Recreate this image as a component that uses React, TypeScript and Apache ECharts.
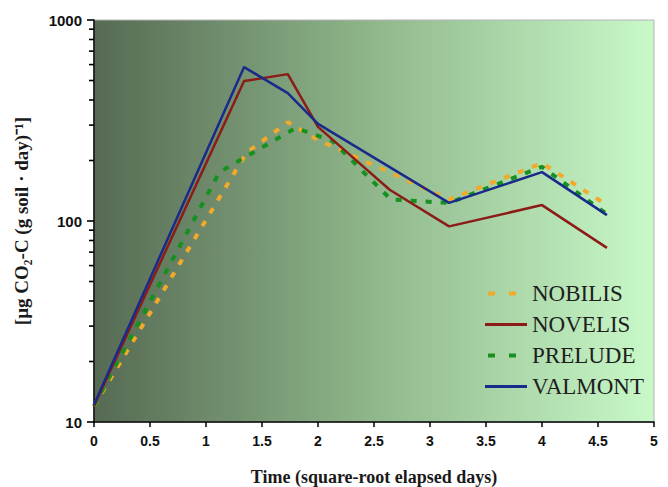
import React, { useEffect, useRef } from "react";
import * as echarts from "echarts";

const seriesNames = ["NOBILIS", "NOVELIS", "PRELUDE", "VALMONT"];
const seriesColors = ["#f3a929", "#8c1c17", "#16901e", "#1a2a8a"];

const nobilisX = [0, 1.36, 1.73, 2.0, 3.17, 4.0, 4.58];
const nobilisY = [12, 218, 310, 253, 128, 194, 120];

const novelisX = [0, 1.34, 1.73, 2.0, 2.64, 3.17, 4.0, 4.58];
const novelisY = [12, 497, 538, 294, 143, 94, 120, 73.5];

const preludeX = [0, 1.12, 1.8, 2.13, 2.65, 3.17, 4.0, 4.58];
const preludeY = [12, 175, 290, 250, 128, 123, 186, 108];

const valmontX = [0, 1.34, 1.73, 2.0, 3.17, 4.0, 4.58];
const valmontY = [12.2, 583, 433, 304, 123, 175, 107];

const minorTickValues = [20, 30, 40, 50, 60, 70, 80, 90, 200, 300, 400, 500, 600, 700, 800, 900];

const xTitle = "Time (square-root elapsed days)";
const yTitle = "[µg CO₂-C (g soil · day)⁻¹]";

const pairs = (xs: number[], ys: number[]) => xs.map((x, i) => [x, ys[i]]);

const SERIF = "Liberation Serif";
const SANS = "Liberation Sans";

export default function App() {
  const ref = useRef<HTMLDivElement>(null);
  useEffect(() => {
    if (!ref.current) return;
    const chart = echarts.init(ref.current, null, { renderer: "svg" });
    const dashed = [6, 9];
    const lineDefs = [
      { x: nobilisX, y: nobilisY, dash: true },
      { x: novelisX, y: novelisY, dash: false },
      { x: preludeX, y: preludeY, dash: true },
      { x: valmontX, y: valmontY, dash: false },
    ];
    const series: any[] = lineDefs.map((d, i) => ({
      name: seriesNames[i],
      type: "line",
      data: pairs(d.x, d.y),
      symbol: "none",
      color: seriesColors[i],
      lineStyle: d.dash
        ? { color: seriesColors[i], width: 4, type: dashed }
        : { color: seriesColors[i], width: 2.5, type: "solid" },
      z: d.dash ? 3 : 4,
    }));
    series.push({
      name: "minorTicks",
      type: "custom",
      coordinateSystem: "cartesian2d",
      data: minorTickValues.map((v) => [0, v]),
      encode: { x: 0, y: 1 },
      clip: false,
      silent: true,
      z: 20,
      renderItem: (params: any, api: any) => {
        const p = api.coord([api.value(0), api.value(1)]);
        return {
          type: "rect",
          shape: { x: p[0] - 5, y: p[1] - 0.8, width: 5, height: 1.6 },
          style: { fill: "#000" },
        };
      },
    });
    chart.setOption({
      animation: false,
      textStyle: { fontFamily: SERIF },
      grid: {
        left: 94,
        top: 20,
        right: 14,
        bottom: 65,
        outerBoundsMode: "none",
        containLabel: false,
        show: true,
        borderColor: "#b4b4b4",
        borderWidth: 1,
        backgroundColor: new echarts.graphic.LinearGradient(0, 0, 1, 0, [
          { offset: 0, color: "#566a54" },
          { offset: 0.5, color: "#8fb78b" },
          { offset: 1, color: "#c9f9c9" },
        ]),
      },
      legend: {
        data: seriesNames.map((n, i) => ({
          name: n,
          lineStyle:
            i % 2 === 0
              ? { type: [7, 14], dashOffset: -3, width: 4, color: seriesColors[i] }
              : { width: 3, color: seriesColors[i] },
        })),
        orient: "vertical",
        left: 478,
        top: 277,
        itemWidth: 42,
        itemHeight: 14,
        itemGap: 8,
        itemStyle: { opacity: 0 },
        formatter: "{s|{name}}",
        textStyle: {
          fontFamily: SERIF,
          fontSize: 23,
          color: "#1e1e1e",
          rich: {
            s: { fontFamily: SERIF, fontSize: 23, color: "#1e1e1e" },
          },
        },
      },
      xAxis: {
        type: "value",
        min: 0,
        max: 5,
        interval: 0.5,
        name: xTitle,
        nameLocation: "middle",
        nameGap: 46,
        nameTextStyle: {
          fontFamily: SERIF,
          fontWeight: "bold",
          fontSize: 18,
          color: "#1a1a1a",
        },
        axisLine: { show: true, lineStyle: { color: "#000", width: 1.5 } },
        axisTick: { show: true, inside: false, length: 5, lineStyle: { color: "#000", width: 1.5 } },
        splitLine: { show: false },
        axisLabel: {
          fontFamily: SANS,
          fontWeight: "bold",
          fontSize: 14,
          color: "#111",
          margin: 12,
        },
      },
      yAxis: {
        type: "log",
        logBase: 10,
        min: 10,
        max: 1000,
        name: yTitle,
        nameLocation: "middle",
        nameGap: 63,
        nameTextStyle: {
          fontFamily: SERIF,
          fontWeight: "bold",
          fontSize: 19,
          color: "#1a1a1a",
        },
        axisLine: { show: true, lineStyle: { color: "#000", width: 1.5 } },
        axisTick: { show: true, inside: false, length: 7, lineStyle: { color: "#000", width: 1.6 } },
        splitLine: { show: false },
        axisLabel: {
          fontFamily: SANS,
          fontWeight: "bold",
          fontSize: 15,
          color: "#111",
          margin: 12,
          formatter: (v: number) => String(Math.round(v)),
        },
      },
      series,
    });
    return () => chart.dispose();
  }, []);
  return <div ref={ref} style={{ width: 668, height: 487, position: "absolute", left: 0, top: 0 }} />;
}
